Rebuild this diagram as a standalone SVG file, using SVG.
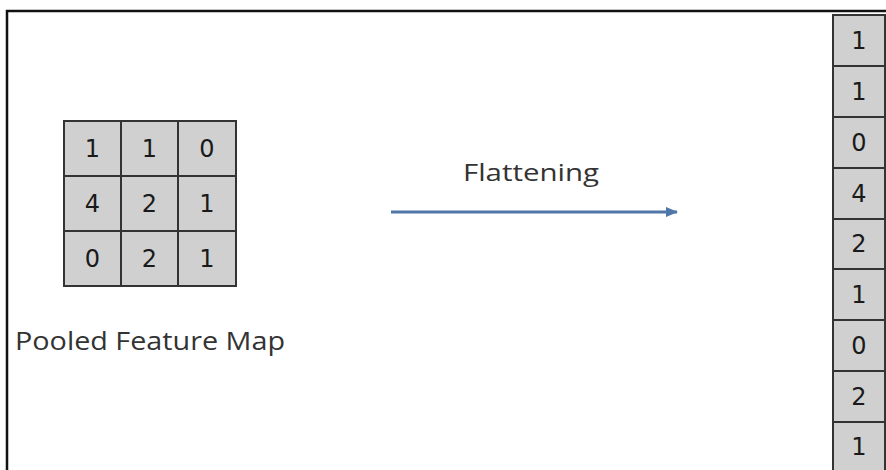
<svg xmlns="http://www.w3.org/2000/svg" width="886" height="470" viewBox="0 0 886 470">
<defs>
<style>
.cell{fill:#d0d0d0;stroke:#333;stroke-width:2}
.num{font-family:"DejaVu Sans","Liberation Sans",sans-serif;font-size:24px;fill:#1a1a1a;text-anchor:middle}
.lbl{font-family:"Open Sans","Liberation Sans",sans-serif;fill:#333}
</style>
<marker id="ah" markerWidth="12" markerHeight="12" refX="11" refY="6" orient="auto" markerUnits="userSpaceOnUse">
<path d="M0,1 L12,6 L0,11 Z" fill="#4f78a8"/>
</marker>
</defs>
<rect width="886" height="470" fill="#fff"/>
<path d="M7,472 L7,11 L888,11" fill="none" stroke="#111" stroke-width="2.5"/>
<g id="pooled-map">
<rect class="cell" x="64" y="121" width="57" height="55"/>
<rect class="cell" x="121" y="121" width="57" height="55"/>
<rect class="cell" x="178" y="121" width="58" height="55"/>
<rect class="cell" x="64" y="176" width="57" height="55"/>
<rect class="cell" x="121" y="176" width="57" height="55"/>
<rect class="cell" x="178" y="176" width="58" height="55"/>
<rect class="cell" x="64" y="231" width="57" height="55"/>
<rect class="cell" x="121" y="231" width="57" height="55"/>
<rect class="cell" x="178" y="231" width="58" height="55"/>
<text class="num" x="92.5" y="157">1</text>
<text class="num" x="149.5" y="157">1</text>
<text class="num" x="207" y="157">0</text>
<text class="num" x="92.5" y="212">4</text>
<text class="num" x="149.5" y="212">2</text>
<text class="num" x="207" y="212">1</text>
<text class="num" x="92.5" y="267">0</text>
<text class="num" x="149.5" y="267">2</text>
<text class="num" x="207" y="267">1</text>
<text class="lbl" x="15" y="350" font-size="25" textLength="270" lengthAdjust="spacingAndGlyphs">Pooled Feature Map</text>
</g>
<g id="connectors">
<line x1="391" y1="212" x2="677" y2="212" stroke="#4f78a8" stroke-width="3" marker-end="url(#ah)"/>
<text class="lbl" x="463" y="181" font-size="24" textLength="136" lengthAdjust="spacingAndGlyphs">Flattening</text>
</g>
<g id="flattened">
<rect class="cell" x="833" y="15" width="52" height="51"/>
<rect class="cell" x="833" y="66" width="52" height="51"/>
<rect class="cell" x="833" y="117" width="52" height="51"/>
<rect class="cell" x="833" y="168" width="52" height="51"/>
<rect class="cell" x="833" y="219" width="52" height="50"/>
<rect class="cell" x="833" y="269" width="52" height="51"/>
<rect class="cell" x="833" y="320" width="52" height="51"/>
<rect class="cell" x="833" y="371" width="52" height="51"/>
<rect class="cell" x="833" y="422" width="52" height="51"/>
<text class="num" x="859" y="49">1</text>
<text class="num" x="859" y="100">1</text>
<text class="num" x="859" y="151">0</text>
<text class="num" x="859" y="202">4</text>
<text class="num" x="859" y="252">2</text>
<text class="num" x="859" y="303">1</text>
<text class="num" x="859" y="354">0</text>
<text class="num" x="859" y="405">2</text>
<text class="num" x="859" y="455">1</text>
</g>
</svg>
